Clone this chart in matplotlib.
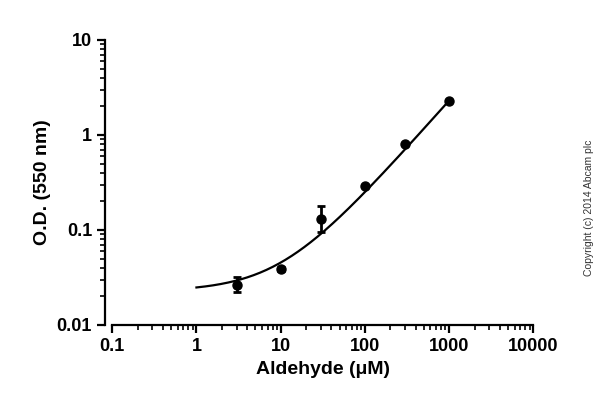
import numpy as np
import matplotlib.pyplot as plt

plt.rcParams["font.family"] = ["Liberation Sans", "DejaVu Sans"]
plt.rcParams["font.weight"] = "bold"

# measured points
conc = [3, 10, 30, 100, 300, 1000]
od = [0.026, 0.039, 0.13, 0.29, 0.80, 2.30]
od_err_lo = [0.004, 0.002, 0.035, 0.01, 0.02, 0.05]
od_err_hi = [0.006, 0.002, 0.05, 0.01, 0.02, 0.05]

# fitted line parameters
fit_intercept = 0.0225
fit_slope = 0.00228

fig = plt.figure(figsize=(6, 4.16), dpi=100)
ax = fig.add_axes([0.187, 0.219, 0.702, 0.685])

xs = np.logspace(0, 3, 200)
ax.plot(xs, fit_intercept + fit_slope * xs, color="black", lw=1.6)
ax.errorbar(conc, od, yerr=[od_err_lo, od_err_hi], fmt="o", color="black",
            ms=6.5, capsize=3, elinewidth=2, capthick=2)

ax.set_xscale("log")
ax.set_yscale("log")
ax.set_xlim(0.1, 10000)
ax.set_ylim(0.01, 10)
ax.set_xticks([0.1, 1, 10, 100, 1000, 10000])
ax.set_xticklabels(["0.1", "1", "10", "100", "1000", "10000"])
ax.set_yticks([0.01, 0.1, 1, 10])
ax.set_yticklabels(["0.01", "0.1", "1", "10"])

for s in ["top", "right"]:
    ax.spines[s].set_visible(False)
for s in ["left", "bottom"]:
    ax.spines[s].set_linewidth(1.6)
ax.spines["left"].set_position(("outward", 5))
ax.tick_params(which="major", width=1.6, length=6, labelsize=13)
ax.tick_params(which="minor", width=1.2, length=3.5)
for lab in ax.get_xticklabels() + ax.get_yticklabels():
    lab.set_fontweight("bold")

ax.set_xlabel("Aldehyde (\u03bcM)", fontsize=14, fontweight="bold")
ax.set_ylabel("O.D. (550 nm)", fontsize=14, fontweight="bold")

fig.text(0.982, 0.5, "Copyright (c) 2014 Abcam plc", rotation=90,
         fontsize=7.5, va="center", ha="center", color="#333333",
         fontweight="normal")

fig.savefig("out.png", dpi=100)
